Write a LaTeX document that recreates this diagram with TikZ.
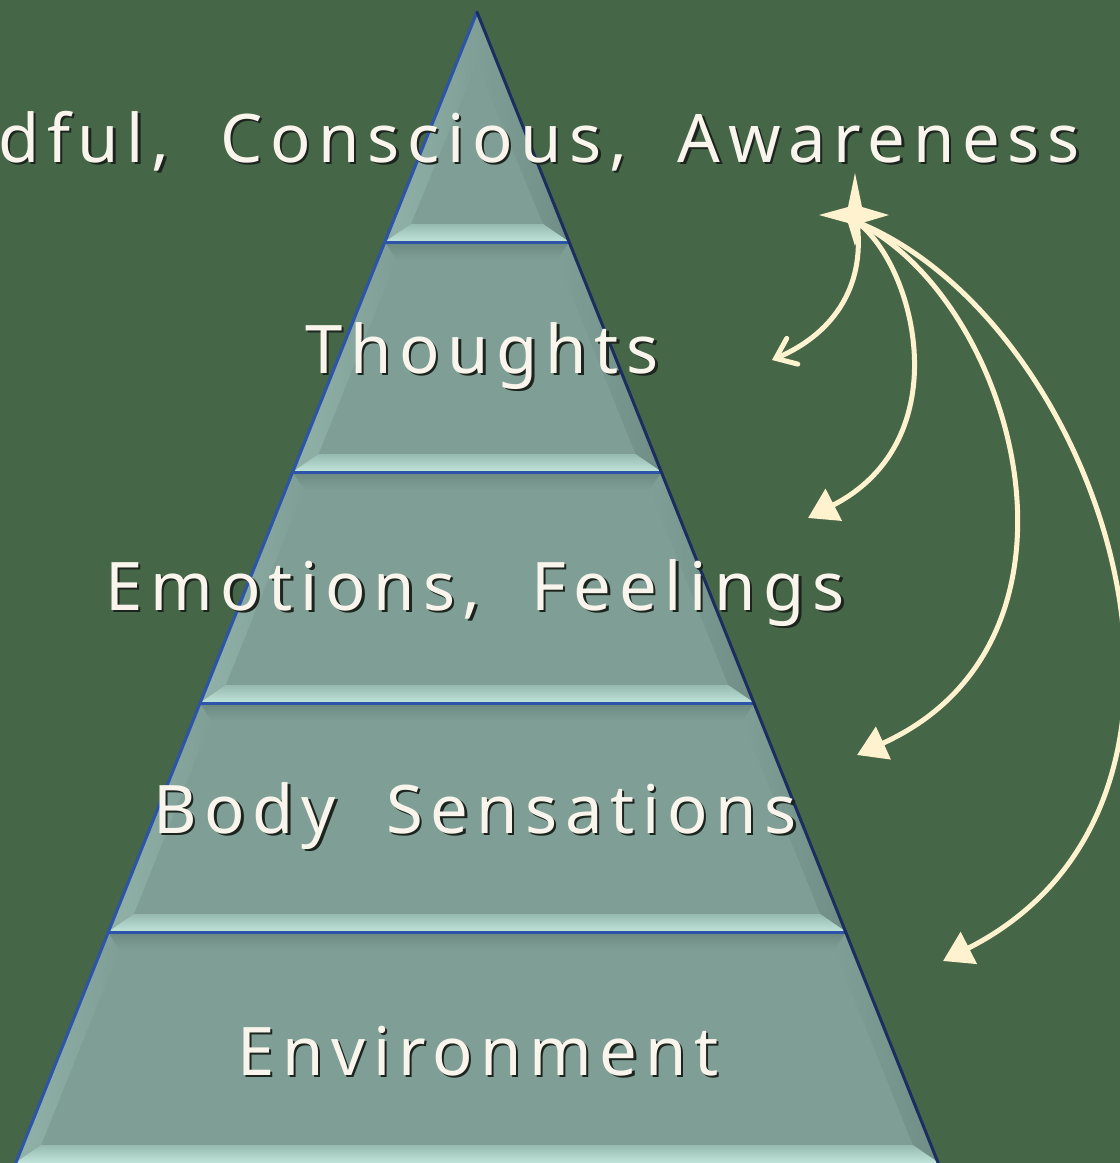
\documentclass[tikz,border=0pt]{standalone}
\usepackage{fontspec}
\newfontfamily\lblfont[LetterSpace=11.5,WordSpace=2.0]{Noto Sans}
\usetikzlibrary{arrows.meta}
\definecolor{bg}{RGB}{70,102,72}
\definecolor{face}{RGB}{127,159,150}
\definecolor{bevlight}{RGB}{194,229,219}
\definecolor{bevmid}{RGB}{150,186,176}
\definecolor{bevdark}{RGB}{108,137,129}
\definecolor{bevleft}{RGB}{145,178,168}
\definecolor{bevright}{RGB}{112,142,134}
\definecolor{edgeblue}{RGB}{45,84,168}
\definecolor{edgenavy}{RGB}{28,45,95}
\definecolor{cream}{RGB}{255,242,206}
\definecolor{txt}{RGB}{250,245,236}
\definecolor{shadowc}{RGB}{28,36,30}
\newcommand\shadowed[1]{\makebox[0pt][l]{\kern2.5pt\raisebox{-2.5pt}{\color{shadowc}#1}}#1}
\begin{document}
\begin{tikzpicture}[x=1pt,y=-1pt,
  lbl/.style={font=\lblfont\fontsize{67}{80}\selectfont, text=txt, inner sep=0pt},
  arc/.style={draw=cream, line width=5pt},
  tri/.style={arc, -{Triangle[length=29pt,width=35pt]}},
  barb/.style={arc, -{Straight Barb[length=18pt,width=28pt,line cap=round]}},
  edge/.style={line width=3pt, line cap=round}
]
\useasboundingbox (0,0) rectangle (1120,1163);
\clip (0,0) rectangle (1120,1163);
\fill[bg] (0,0) rectangle (1120,1163);

% pyramid segments
\def\s{0.4015}
\foreach \t/\b/\first in {12/242/1,242/472/0,472/703/0,703/932/0,932/1163/0} {
  \pgfmathsetmacro\Lt{477-\s*(\t-12)}
  \pgfmathsetmacro\Rt{477+\s*(\t-12)}
  \pgfmathsetmacro\Lb{477-\s*(\b-12)}
  \pgfmathsetmacro\Rb{477+\s*(\b-12)}
  \pgfmathsetmacro\ti{\t+18}
  \pgfmathsetmacro\bi{\b-18}
  \pgfmathsetmacro\Lti{477-\s*(\ti-12)+19}
  \pgfmathsetmacro\Rti{477+\s*(\ti-12)-19}
  \pgfmathsetmacro\Lbi{477-\s*(\bi-12)+19}
  \pgfmathsetmacro\Rbi{477+\s*(\bi-12)-19}
  \ifnum\first=1
    \def\Lti{477}\def\Rti{477}\def\ti{64}
  \fi
  \fill[face] (\Lt,\t) -- (\Rt,\t) -- (\Rb,\b) -- (\Lb,\b) -- cycle;
  \shade[top color=bevdark, bottom color=face] (\Lt,\t) -- (\Rt,\t) -- (\Rti,\ti) -- (\Lti,\ti) -- cycle;
  \shade[left color=bevleft, right color=face] (\Lt,\t) -- (\Lti,\ti) -- (\Lbi,\bi) -- (\Lb,\b) -- cycle;
  \shade[left color=face, right color=bevright] (\Rt,\t) -- (\Rti,\ti) -- (\Rbi,\bi) -- (\Rb,\b) -- cycle;
  \shade[top color=bevmid, bottom color=bevlight] (\Lbi,\bi) -- (\Rbi,\bi) -- (\Rb,\b) -- (\Lb,\b) -- cycle;
}
% dividers
\foreach \y in {242,472,703,932} {
  \pgfmathsetmacro\L{477-\s*(\y-12)}
  \pgfmathsetmacro\R{477+\s*(\y-12)}
  \draw[edge, edgeblue] (\L,\y) -- (\R,\y);
}
\coordinate (apex) at (477,12);
\coordinate (baseL) at (15,1165);
\coordinate (baseR) at (939,1165);
\draw[edge, edgeblue] (apex) -- (baseL);
\draw[edge, edgenavy] (apex) -- (baseR);

% labels
\node[lbl, anchor=base west] (top) at (-2,162) {\shadowed{dful, Conscious, Awareness}};
\node[lbl, anchor=base] (th) at (482,373) {\shadowed{Thoughts}};
\node[lbl, anchor=base] (em) at (475,610) {\shadowed{Emotions, Feelings}};
\node[lbl, anchor=base] (bs) at (475,833) {\shadowed{Body Sensations}};
\node[lbl, anchor=base] (env) at (478,1075) {\shadowed{Environment}};

% star
\coordinate (star) at (857,222);
\fill[cream] (855,173) -- (862,207) -- (889,215) -- (862,223) -- (855,246)
  -- (848,223) -- (819,215) -- (848,207) -- cycle;

% arrows
\coordinate (a1) at (772,360);
\coordinate (a2) at (808,518);
\coordinate (a3) at (857,755);
\coordinate (a4) at (943,961);
\draw[barb] (star) .. controls (866,290) and (830,335) .. (a1);
\draw[tri] (star) .. controls (915,265) and (960,440) .. (a2);
\draw[tri] (star) .. controls (1015,300) and (1110,640) .. (a3);
\draw[tri] (star) .. controls (1100,320) and (1260,800) .. (a4);
\end{tikzpicture}
\end{document}
